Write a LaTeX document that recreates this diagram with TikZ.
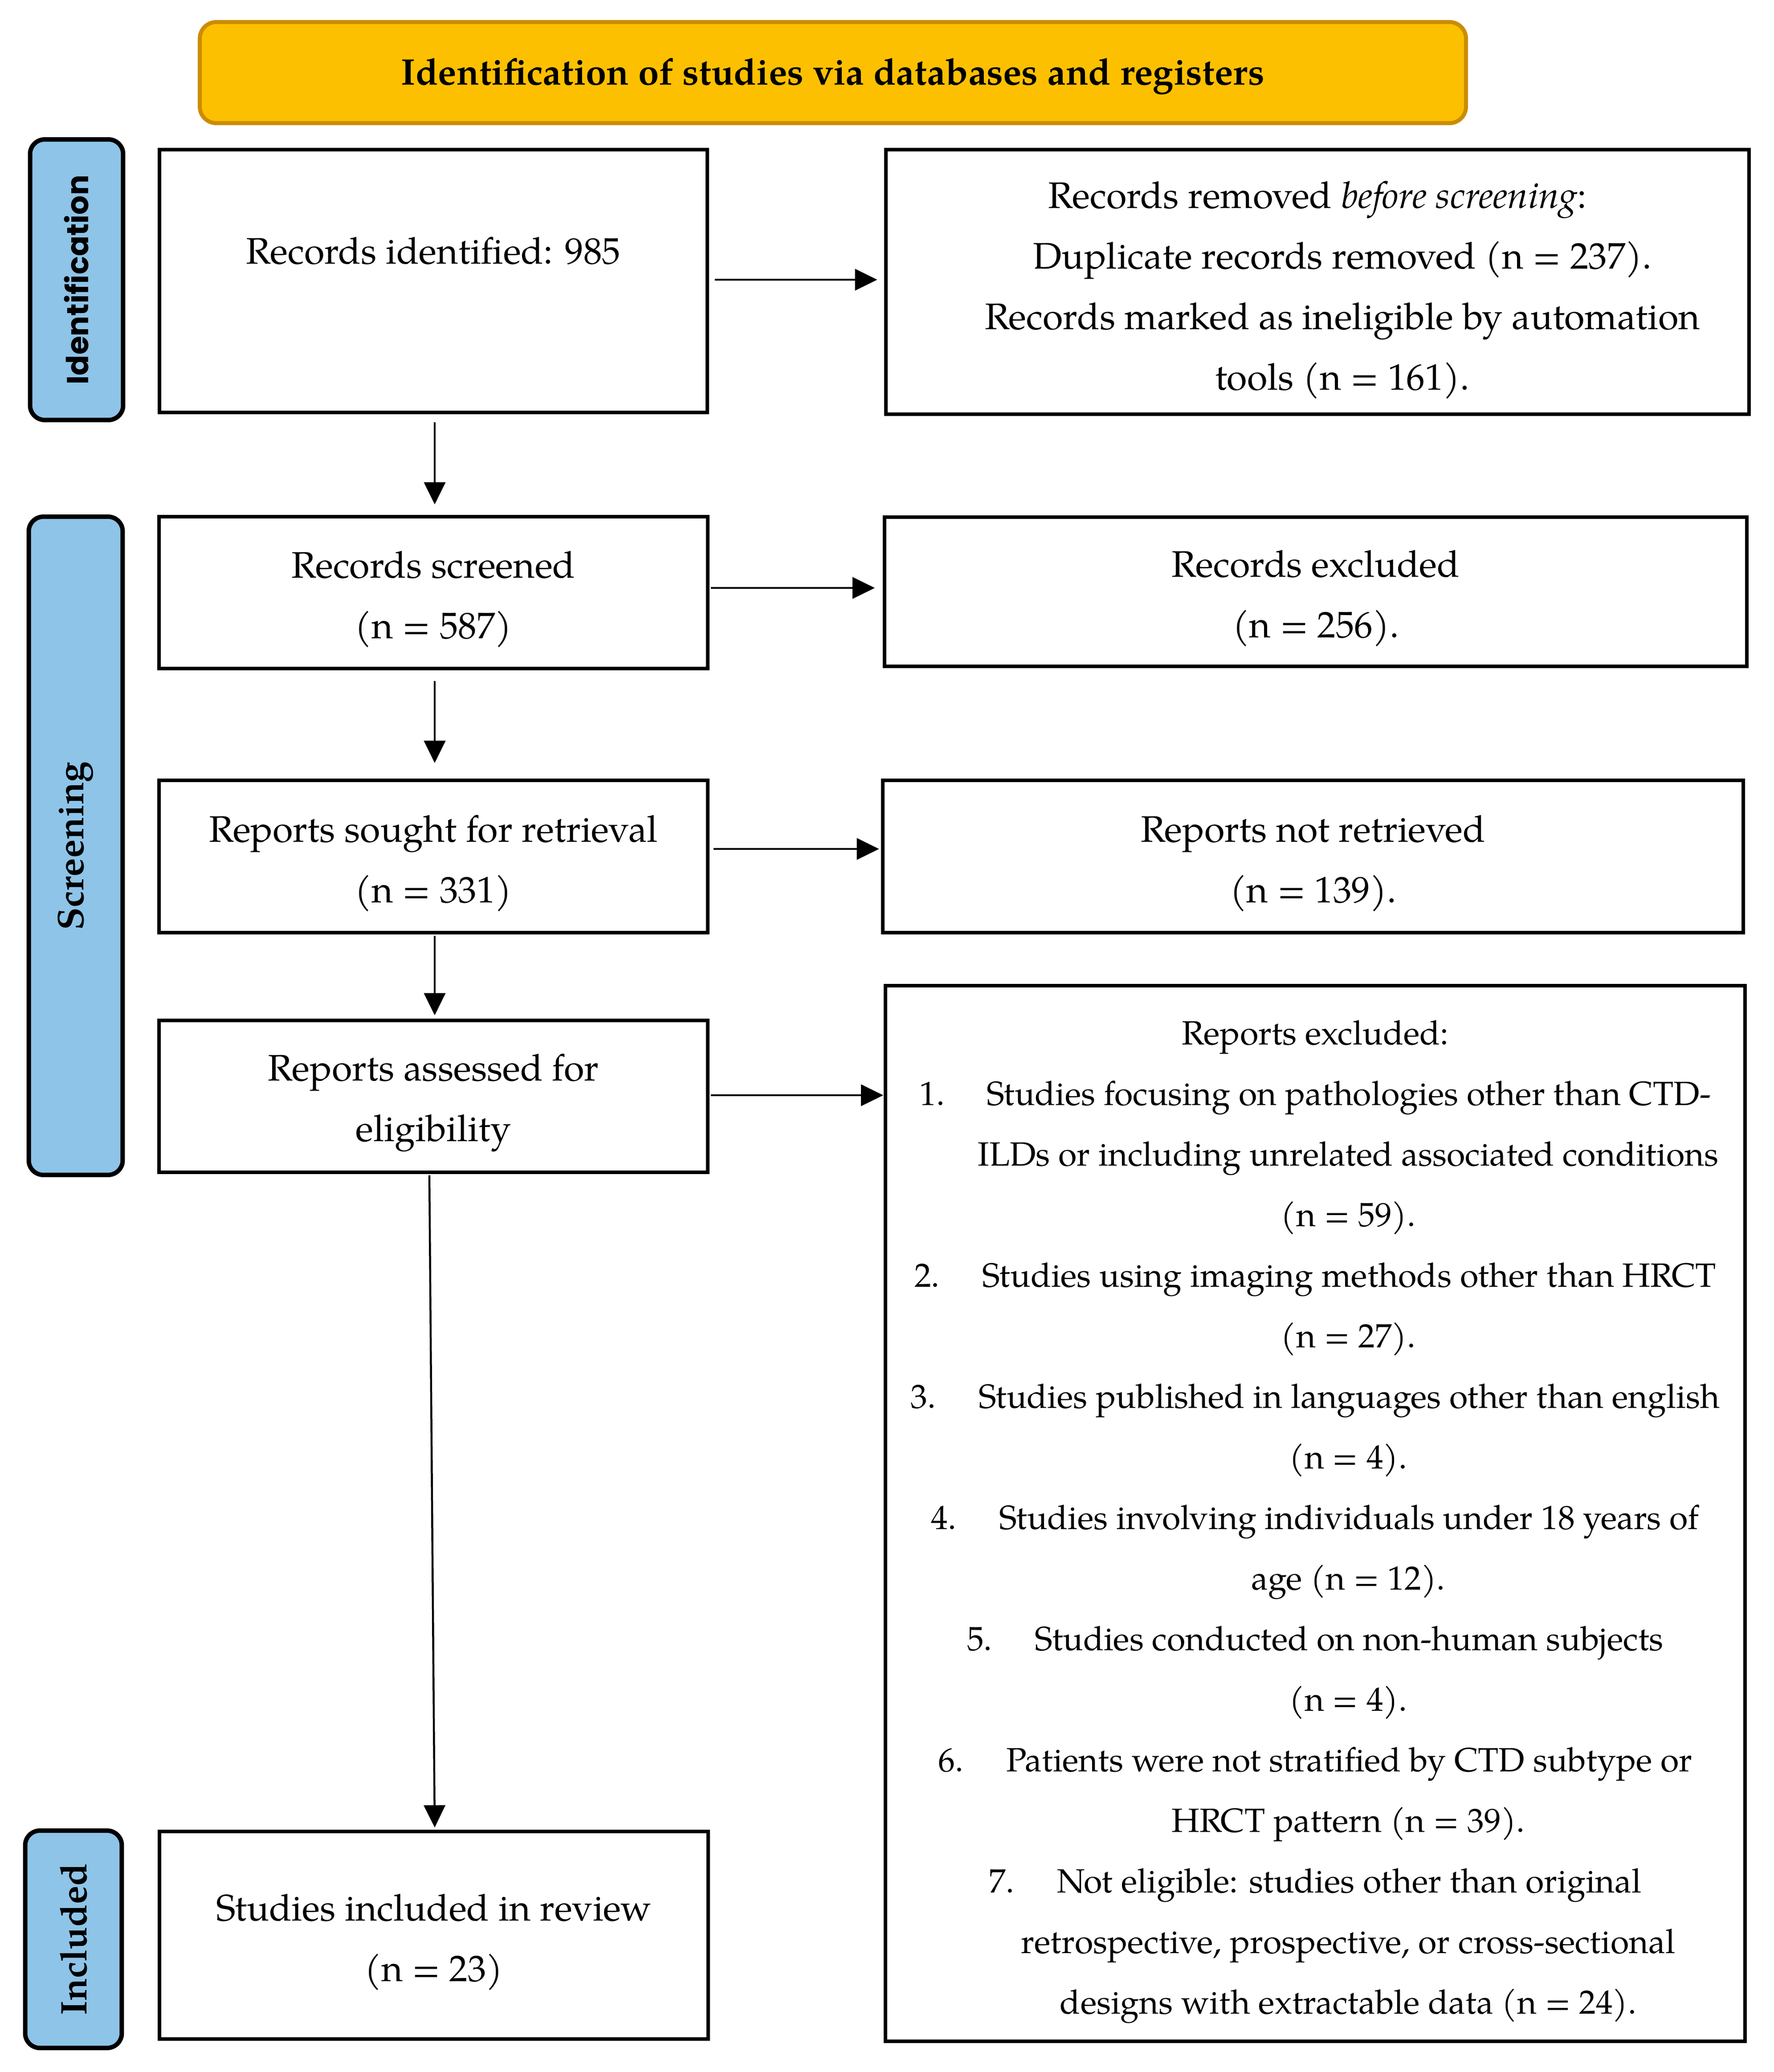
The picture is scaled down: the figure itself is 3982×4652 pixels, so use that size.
\documentclass[tikz,border=0pt]{standalone}
\usepackage{fontspec}
\setmainfont{TeX Gyre Pagella}
\newfontfamily\popfont{Poppins}
\usetikzlibrary{arrows.meta}
\definecolor{hdrfill}{HTML}{FDC000}
\definecolor{hdrdraw}{HTML}{CC8C00}
\definecolor{lblue}{HTML}{8EC4E8}
\begin{document}
\begin{tikzpicture}[x=0.1pt,y=-0.1pt,
  every node/.style={font=\fontsize{8.3}{13.6}\selectfont, inner sep=0pt, outer sep=0pt},
  box/.style={draw=black, line width=0.8pt, fill=white},
  txt/.style={align=center, yshift=-1.5pt},
  lbl/.style={draw=black, line width=1pt, fill=lblue, rounded corners=3.3pt, rotate=90, font=\fontsize{8.3}{13.6}\selectfont\bfseries},
  hdr/.style={draw=hdrdraw, line width=0.9pt, fill=hdrfill, rounded corners=3.7pt},
  arr/.style={-{Triangle[length=5pt,width=4.8pt]}, line width=0.45pt},
]
\useasboundingbox (0,0) rectangle (3982,4652);

% header
\node[hdr, minimum width=284.3pt, minimum height=22.7pt] (hdr) at (1870,163) {};
\node[font=\fontsize{8.3}{13.6}\selectfont\bfseries, yshift=-0.9pt] (hdrt) at (hdr) {Identification of studies via databases and registers};

% side labels
\node[lbl, minimum width=63pt, minimum height=20.9pt, font=\popfont\fontsize{6.8}{9}\selectfont\bfseries] (lblid) at (172,628) {Identification};
\node[lbl, minimum width=147.8pt, minimum height=21.1pt] (lblscr) at (170,1899) {Screening};
\node[lbl, minimum width=48.8pt, minimum height=21.7pt] (lblinc) at (165,4354) {Included};

% left column
\node[box, minimum width=123pt, minimum height=59pt] (ident) at (973,631) {};
\node (identt) at (973,563) {Records identified: 985};
\node[box, minimum width=123.3pt, minimum height=34.1pt] (screened) at (973,1330) {};
\node[txt] (screenedt) at (screened) {Records screened\\(n = 587)};
\node[box, minimum width=123.3pt, minimum height=34.2pt] (sought) at (973,1923) {};
\node[txt] (soughtt) at (sought) {Reports sought for retrieval\\(n = 331)};
\node[box, minimum width=123.3pt, minimum height=34.1pt] (assessed) at (973,2461) {};
\node[txt] (assessedt) at (assessed) {Reports assessed for\\eligibility};
\node[box, minimum width=123.2pt, minimum height=46.6pt] (included) at (974,4345) {};
\node[txt] (includedt) at (included) {Studies included in review\\(n = 23)};

% right column
\node[box, minimum width=193.9pt, minimum height=59.4pt] (removed) at (2958,633) {};
\node[txt, yshift=-0.3pt] (removedt) at (removed) {Records removed \textit{before screening}:\\
\hspace*{11.2pt}Duplicate records removed (n = 237).\\
\hspace*{11.2pt}Records marked as ineligible by automation\\
\hspace*{11.2pt}tools (n = 161).};
\node[box, minimum width=193.6pt, minimum height=33.5pt] (recexcl) at (2954,1328) {};
\node[txt] (recexclt) at (recexcl) {Records excluded\\(n = 256).};
\node[box, minimum width=193.3pt, minimum height=34.2pt] (notretr) at (2948,1923) {};
\node[txt] (notretrt) at (notretr) {Reports not retrieved\\(n = 139).};
\node[box, minimum width=193pt, minimum height=237pt] (repexcl) at (2953,3398) {};
\node[txt, yshift=-0.4pt, font=\fontsize{7.55}{13.6}\selectfont] (repexclt) at (repexcl) {Reports excluded:\\
1.\hspace{9.4pt}Studies focusing on pathologies other than CTD-\\
\hspace*{14.8pt}ILDs or including unrelated associated conditions\\
\hspace*{14.8pt}(n = 59).\\
2.\hspace{9.6pt}Studies using imaging methods other than HRCT\\
\hspace*{14.8pt}(n = 27).\\
3.\hspace{9.6pt}Studies published in languages other than english\\
\hspace*{14.8pt}(n = 4).\\
4.\hspace{9.6pt}Studies involving individuals under 18 years of\\
\hspace*{14.8pt}age (n = 12).\\
5.\hspace{9.6pt}Studies conducted on non-human subjects\\
\hspace*{14.8pt}(n = 4).\\
6.\hspace{9.6pt}Patients were not stratified by CTD subtype or\\
\hspace*{14.8pt}HRCT pattern (n = 39).\\
7.\hspace{9.6pt}Not eligible: studies other than original\\
\hspace*{14.8pt}retrospective, prospective, or cross-sectional\\
\hspace*{14.8pt}designs with extractable data (n = 24).};

% horizontal arrows
\draw[arr] ([xshift=1.7pt,yshift=0.3pt]ident.east) -- ([xshift=-1.9pt,yshift=0.3pt]ident.east -| removed.west);
\draw[arr] ([xshift=0.7pt,yshift=1.0pt]screened.east) -- ([xshift=-2.2pt,yshift=1.0pt]screened.east -| recexcl.west);
\draw[arr] ([xshift=1.3pt,yshift=1.7pt]sought.east) -- ([xshift=-0.8pt,yshift=1.7pt]sought.east -| notretr.west);
\draw[arr] ([xshift=0.7pt,yshift=0.2pt]assessed.east) -- ([xshift=-0.5pt,yshift=0.2pt]assessed.east -| repexcl.west);

% vertical arrows
\draw[arr] ([xshift=0.3pt,yshift=-2.2pt]ident.south) -- ([xshift=0.3pt,yshift=2.7pt]screened.north);
\draw[arr] ([xshift=0.3pt,yshift=-2.8pt]screened.south) -- ([xshift=0.3pt,yshift=3.9pt]sought.north);
\draw[arr] ([xshift=0.3pt,yshift=-0.7pt]sought.south) -- ([xshift=0.3pt,yshift=1.1pt]assessed.north);
\draw[arr] ([xshift=-0.9pt,yshift=-0.7pt]assessed.south) -- ([xshift=0.2pt,yshift=0.9pt]included.north);
\end{tikzpicture}
\end{document}
